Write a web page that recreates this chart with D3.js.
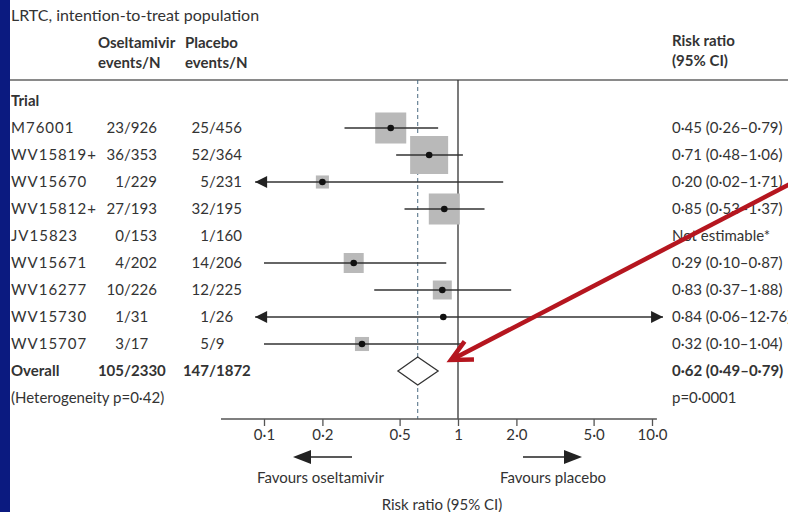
<!DOCTYPE html>
<html>
<head>
<meta charset="utf-8">
<script src="https://cdn.jsdelivr.net/npm/d3@7"></script>
<style>
  body { margin: 0; background: #fff; }
  svg text { font-family: Lato, "Open Sans", sans-serif; fill: #333; }
</style>
</head>
<body>
<div id="chart"></div>
<script>
// Data
var trials = ["M76001", "WV15819+", "WV15670", "WV15812+", "JV15823", "WV15671", "WV16277", "WV15730", "WV15707"];
var oseltamivir = [["23", "926"], ["36", "353"], ["1", "229"], ["27", "193"], ["0", "153"], ["4", "202"], ["10", "226"], ["1", "31"], ["3", "17"]];
var placebo = [["25", "456"], ["52", "364"], ["5", "231"], ["32", "195"], ["1", "160"], ["14", "206"], ["12", "225"], ["1", "26"], ["5", "9"]];
var rr = [0.45, 0.71, 0.20, 0.85, null, 0.29, 0.83, 0.84, 0.32];
var lower = [0.26, 0.48, 0.02, 0.53, null, 0.10, 0.37, 0.06, 0.10];
var upper = [0.79, 1.06, 1.71, 1.37, null, 0.87, 1.88, 12.76, 1.04];
var weights = [21.4, 32.1, 3.8, 21.4, null, 8.9, 8.0, 0.4, 4.4];
var rrLabels = ["0·45 (0·26–0·79)", "0·71 (0·48–1·06)", "0·20 (0·02–1·71)", "0·85 (0·53–1·37)", "Not estimable*",
                "0·29 (0·10–0·87)", "0·83 (0·37–1·88)", "0·84 (0·06–12·76)", "0·32 (0·10–1·04)"];
var overall = { label: "Overall", osel: ["105", "2330"], plac: ["147", "1872"], rr: 0.62, lower: 0.49, upper: 0.79, text: "0·62 (0·49–0·79)" };
var heterogeneity = "(Heterogeneity p=0·42)";
var pValue = "p=0·0001";
var tickValues = [0.1, 0.2, 0.5, 1, 2, 5, 10];
var tickLabels = ["0·1", "0·2", "0·5", "1", "2·0", "5·0", "10·0"];

var W = 788, H = 512;
var clipLo = 0.09, clipHi = 11.4;

var svg = d3.select("#chart").append("svg")
    .attr("width", W).attr("height", H);

// left blue band
svg.append("rect").attr("x", 0).attr("y", 0).attr("width", 10).attr("height", H).attr("fill", "#0b1a80");

// Scales
var x = d3.scaleLog().domain([0.1, 10]).range([264, 652]);
var rowKeys = ["Trial"].concat(trials, ["Overall", "Het"]);
var y = d3.scalePoint().domain(rowKeys).range([101, 398]);
var size = d3.scaleSqrt().domain([0, 32.1]).range([0, 38]);

var axisY = 419, topY = 80;

// Header
svg.append("text").attr("x", 11).attr("y", 21).style("font-size", "16px").text("LRTC, intention-to-treat population");
svg.append("text").attr("x", 98).attr("y", 48).style("font-size", "15px").style("font-weight", "bold").text("Oseltamivir");
svg.append("text").attr("x", 185).attr("y", 48).style("font-size", "15px").style("font-weight", "bold").text("Placebo");
svg.append("text").attr("x", 98).attr("y", 68).style("font-size", "15px").style("font-weight", "bold").text("events/N");
svg.append("text").attr("x", 185).attr("y", 68).style("font-size", "15px").style("font-weight", "bold").text("events/N");
svg.append("text").attr("x", 672).attr("y", 46).style("font-size", "15px").style("font-weight", "bold").text("Risk ratio");
svg.append("text").attr("x", 672).attr("y", 66).style("font-size", "15px").style("font-weight", "bold").text("(95% CI)");

svg.append("line").attr("x1", 10).attr("x2", W).attr("y1", topY).attr("y2", topY)
    .attr("stroke", "#8a8a8a").attr("stroke-width", 2);

svg.append("text").attr("x", 11).attr("y", y("Trial")).attr("dy", "0.35em")
    .style("font-size", "15px").style("font-weight", "bold").text("Trial");

// Reference lines
svg.append("line").attr("x1", x(1)).attr("x2", x(1)).attr("y1", topY).attr("y2", axisY)
    .attr("stroke", "#333").attr("stroke-width", 1.3);
svg.append("line").attr("x1", x(overall.rr)).attr("x2", x(overall.rr)).attr("y1", topY).attr("y2", axisY)
    .attr("stroke", "#4a6a80").attr("stroke-width", 1).attr("stroke-dasharray", "4,3");

// Table text
var rowData = trials.map(function(t, i) {
    return { name: t, osel: oseltamivir[i], plac: placebo[i], rr: rr[i], lo: lower[i], hi: upper[i], w: weights[i], label: rrLabels[i] };
});

function fraction(g, pair, slashX, yy, bold) {
    g.append("text").attr("x", slashX).attr("y", yy).attr("dy", "0.35em").attr("text-anchor", "end")
        .style("font-size", "15px").style("font-weight", bold ? "bold" : null).text(pair[0]);
    g.append("text").attr("x", slashX).attr("y", yy).attr("dy", "0.35em")
        .style("font-size", "15px").style("font-weight", bold ? "bold" : null).text("/" + pair[1]);
}

var rows = svg.selectAll(".row").data(rowData).enter().append("g").attr("class", "row");
rows.each(function(d) {
    var g = d3.select(this), yy = y(d.name);
    g.append("text").attr("x", 11).attr("y", yy).attr("dy", "0.35em").style("font-size", "15px")
        .style("letter-spacing", "1px").text(d.name);
    fraction(g, d.osel, 124, yy, false);
    fraction(g, d.plac, 209, yy, false);
    g.append("text").attr("x", 672).attr("y", yy).attr("dy", "0.35em").style("font-size", "15px").text(d.label);
});

// Overall row text
var oy = y("Overall");
svg.append("text").attr("x", 11).attr("y", oy).attr("dy", "0.35em").style("font-size", "15px").style("font-weight", "bold").text(overall.label);
fraction(svg, overall.osel, 124, oy, true);
fraction(svg, overall.plac, 209, oy, true);
svg.append("text").attr("x", 672).attr("y", oy).attr("dy", "0.35em").style("font-size", "15px").style("font-weight", "bold").text(overall.text);
svg.append("text").attr("x", 11).attr("y", y("Het")).attr("dy", "0.35em").style("font-size", "15px").text(heterogeneity);
svg.append("text").attr("x", 672).attr("y", y("Het")).attr("dy", "0.35em").style("font-size", "15px").text(pValue);

// Forest marks
var est = rowData.filter(function(d) { return d.rr != null; });

svg.selectAll(".box").data(est).enter().append("rect")
    .attr("class", "box")
    .attr("x", function(d) { return x(d.rr) - size(d.w) / 2; })
    .attr("y", function(d) { return y(d.name) - size(d.w) / 2; })
    .attr("width", function(d) { return size(d.w); })
    .attr("height", function(d) { return size(d.w); })
    .attr("fill", "#b9b9b9");

svg.selectAll(".ci").data(est).enter().append("line")
    .attr("class", "ci")
    .attr("x1", function(d) { return x(Math.max(d.lo, clipLo)); })
    .attr("x2", function(d) { return x(Math.min(d.hi, clipHi)); })
    .attr("y1", function(d) { return y(d.name); })
    .attr("y2", function(d) { return y(d.name); })
    .attr("stroke", "#333").attr("stroke-width", 1.3);

// arrowheads for clipped intervals
est.forEach(function(d) {
    var yy = y(d.name);
    if (d.lo < clipLo) {
        var xt = x(clipLo);
        svg.append("path").attr("d", "M" + xt + "," + yy + "L" + (xt + 12) + "," + (yy - 6) + "L" + (xt + 12) + "," + (yy + 6) + "Z").attr("fill", "#222");
    }
    if (d.hi > clipHi) {
        var xh = x(clipHi);
        svg.append("path").attr("d", "M" + xh + "," + yy + "L" + (xh - 12) + "," + (yy - 6) + "L" + (xh - 12) + "," + (yy + 6) + "Z").attr("fill", "#222");
    }
});

svg.selectAll(".dot").data(est).enter().append("circle")
    .attr("class", "dot")
    .attr("cx", function(d) { return x(d.rr); })
    .attr("cy", function(d) { return y(d.name); })
    .attr("r", 3.3)
    .attr("fill", "#111");

// Overall diamond
svg.append("path")
    .attr("d", "M" + x(overall.lower) + "," + oy + "L" + x(overall.rr) + "," + (oy - 14) + "L" + x(overall.upper) + "," + oy + "L" + x(overall.rr) + "," + (oy + 14) + "Z")
    .attr("fill", "#fff").attr("stroke", "#333").attr("stroke-width", 1.3);

// Axis
svg.append("line").attr("x1", x(0.06)).attr("x2", x(10.6)).attr("y1", axisY).attr("y2", axisY)
    .attr("stroke", "#555").attr("stroke-width", 1.3);
var axis = svg.append("g").attr("transform", "translate(0," + axisY + ")")
    .call(d3.axisBottom(x).tickValues(tickValues).tickSize(7).tickSizeOuter(0)
        .tickFormat(function(d, i) { return tickLabels[i]; }));
axis.select(".domain").remove();
axis.selectAll(".tick line").attr("stroke", "#555").attr("stroke-width", 1.3);
axis.selectAll(".tick text").style("font-size", "15px").attr("fill", "#333").style("font-family", "Lato, sans-serif");

// favours arrows
var fy = 457;
svg.append("line").attr("x1", 352).attr("x2", 305).attr("y1", fy).attr("y2", fy).attr("stroke", "#222").attr("stroke-width", 1.5);
svg.append("path").attr("d", "M293," + fy + "L311," + (fy - 7) + "L311," + (fy + 7) + "Z").attr("fill", "#222");
svg.append("line").attr("x1", 523).attr("x2", 570).attr("y1", fy).attr("y2", fy).attr("stroke", "#222").attr("stroke-width", 1.5);
svg.append("path").attr("d", "M582," + fy + "L564," + (fy - 7) + "L564," + (fy + 7) + "Z").attr("fill", "#222");

svg.append("text").attr("x", 257).attr("y", 478).attr("dy", "0.35em").style("font-size", "15px").text("Favours oseltamivir");
svg.append("text").attr("x", 500).attr("y", 478).attr("dy", "0.35em").style("font-size", "15px").text("Favours placebo");
svg.append("text").attr("x", x(1) - 16).attr("y", 505).attr("dy", "0.35em").attr("text-anchor", "middle").style("font-size", "15px").text("Risk ratio (95% CI)");

// Red annotation arrow
var tip = [x(0.92), oy - 11], tail = [790, 184];
var ang = Math.atan2(tail[1] - tip[1], tail[0] - tip[0]), len = 23, spread = 0.46;
var b1 = [tip[0] + len * Math.cos(ang - spread), tip[1] + len * Math.sin(ang - spread)];
var b2 = [tip[0] + len * Math.cos(ang + spread), tip[1] + len * Math.sin(ang + spread)];
svg.append("line").attr("x1", tail[0]).attr("y1", tail[1]).attr("x2", tip[0] + 2).attr("y2", tip[1] - 1)
    .attr("stroke", "#b5161f").attr("stroke-width", 4.5);
svg.append("path").attr("d", "M" + b1 + "L" + tip + "L" + b2)
    .attr("fill", "none").attr("stroke", "#b5161f").attr("stroke-width", 4.5).attr("stroke-linejoin", "miter");
</script>
</body>
</html>
